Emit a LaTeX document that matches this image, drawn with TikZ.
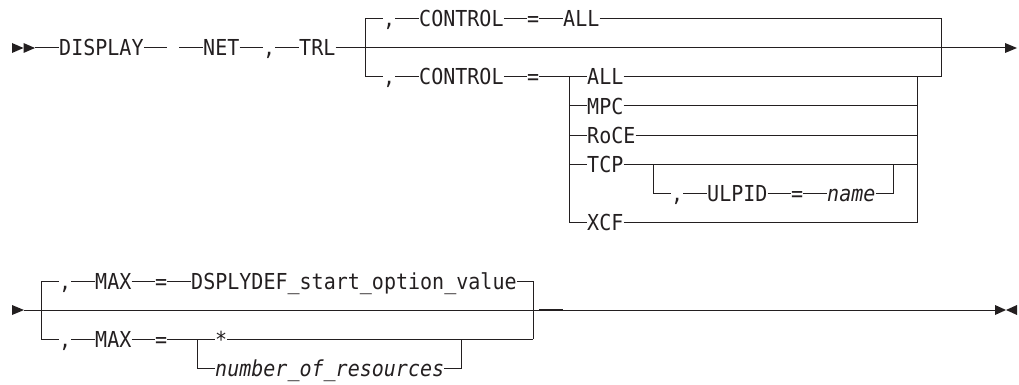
\documentclass[tikz,border=0pt]{standalone}
\usepackage{fontspec}
\setmonofont[FakeStretch=0.91]{DejaVu Sans Mono}
\definecolor{ink}{HTML}{231F20}
\tikzset{
  tok/.style={anchor=west, inner sep=0pt, text height=16pt, text depth=0pt,
    font=\ttfamily\fontsize{22}{26}\selectfont, text=ink},
  var/.style={tok, font=\ttfamily\itshape\fontsize{22}{26}\selectfont},
  rail/.style={draw=ink, line width=1pt},
  tip/.style={fill=ink, draw=none}
}
\begin{document}
\begin{tikzpicture}[x=1pt, y=-1pt]
\useasboundingbox (0,0) rectangle (1019,385);
% ---------------- Row 1 ----------------
\fill[tip] (12,43) -- (23.5,48) -- (12,53) -- cycle;
\fill[tip] (23.5,43) -- (35,48) -- (23.5,53) -- cycle;
\coordinate (s1) at (35,48);
\node[tok] (disp) at (59,48) {DISPLAY};
\coordinate (g1) at (167,48);
\coordinate (g2) at (179,48);
\node[tok] (net) at (203,48) {NET};
\node[tok] (c1) at (263,48) {,};
\node[tok] (trl) at (299,48) {TRL};
\coordinate (e1) at (1005,48);
\fill[tip] (1005,43) -- (1017,48) -- (1005,53) -- cycle;
\draw[rail] (s1) -- (disp.west);
\draw[rail] (disp.east) -- (g1);
\draw[rail] (g2) -- (net.west);
\draw[rail] (net.east) -- (c1.west);
\draw[rail] (c1.east) -- (trl.west);
\draw[rail] (trl.east) -- (e1);
% loop corners
\coordinate (L1t) at (365,19);
\coordinate (L1b) at (365,77);
\coordinate (R1t) at (941,19);
\coordinate (R1b) at (941,77);
% default (top)
\node[tok] (c2) at (383,19) {,};
\node[tok] (ctl1) at (419,19) {CONTROL};
\node[tok] (eq1) at (527,19) {=};
\node[tok] (all1) at (563,19) {ALL};
\draw[rail] (L1b) -- (L1t) -- (c2.west);
\draw[rail] (c2.east) -- (ctl1.west);
\draw[rail] (ctl1.east) -- (eq1.west);
\draw[rail] (eq1.east) -- (all1.west);
\draw[rail] (all1.east) -- (R1t) -- (R1b);
% bottom branch
\node[tok] (c3) at (383,77) {,};
\node[tok] (ctl2) at (419,77) {CONTROL};
\node[tok] (eq2) at (527,77) {=};
\coordinate (V2t) at (569,77);
\coordinate (V2b) at (569,222);
\coordinate (W2t) at (917,77);
\coordinate (W2b) at (917,222);
\node[tok] (all2) at (587,77) {ALL};
\node[tok] (mpc) at (587,106) {MPC};
\node[tok] (roce) at (587,135) {RoCE};
\node[tok] (tcp) at (587,164) {TCP};
\node[tok] (xcf) at (587,222) {XCF};
\draw[rail] (L1b) -- (c3.west);
\draw[rail] (c3.east) -- (ctl2.west);
\draw[rail] (ctl2.east) -- (eq2.west);
\draw[rail] (eq2.east) -- (all2.west);
\draw[rail] (all2.east) -- (R1b);
\draw[rail] (V2t) -- (V2b) -- (xcf.west);
\draw[rail] (V2t |- mpc.west) -- (mpc.west);
\draw[rail] (V2t |- roce.west) -- (roce.west);
\draw[rail] (V2t |- tcp.west) -- (tcp.west);
\draw[rail] (mpc.east) -- (W2t |- mpc.east);
\draw[rail] (roce.east) -- (W2t |- roce.east);
\draw[rail] (tcp.east) -- (W2t |- tcp.east);
\draw[rail] (xcf.east) -- (W2b) -- (W2t);
% ULPID option
\coordinate (U1t) at (653,164);
\coordinate (U1b) at (653,193);
\coordinate (U2t) at (893,164);
\coordinate (U2b) at (893,193);
\node[tok] (c4) at (671,193) {,};
\node[tok] (ulpid) at (707,193) {ULPID};
\node[tok] (eq3) at (791,193) {=};
\node[var] (name) at (827,193) {name};
\draw[rail] (U1t) -- (U1b) -- (c4.west);
\draw[rail] (c4.east) -- (ulpid.west);
\draw[rail] (ulpid.east) -- (eq3.west);
\draw[rail] (eq3.east) -- (name.west);
\draw[rail] (name.east) -- (U2b) -- (U2t);
% ---------------- Row 2 ----------------
\fill[tip] (12,305) -- (24,310) -- (12,315) -- cycle;
\coordinate (s2) at (24,310);
\coordinate (e2) at (995,310);
\fill[tip] (995,305) -- (1006,310) -- (995,315) -- cycle;
\fill[tip] (1017,305) -- (1006,310) -- (1017,315) -- cycle;
\draw[rail] (s2) -- (e2);
\coordinate (dA) at (539,310);
\coordinate (dB) at (563,310);
\draw[draw=ink, line width=1.3pt] (dA) -- (dB);
\coordinate (L3t) at (41,281);
\coordinate (L3b) at (41,339);
\coordinate (R3t) at (533,281);
\coordinate (R3b) at (533,339);
\node[tok] (c5) at (59,281) {,};
\node[tok] (max1) at (95,281) {MAX};
\node[tok] (eq4) at (155,281) {=};
\node[tok] (dsp) at (191,281) {DSPLYDEF\_start\_option\_value};
\draw[rail] (L3b) -- (L3t) -- (c5.west);
\draw[rail] (c5.east) -- (max1.west);
\draw[rail] (max1.east) -- (eq4.west);
\draw[rail] (eq4.east) -- (dsp.west);
\draw[rail] (dsp.east) -- (R3t) -- (R3b);
\node[tok] (c6) at (59,339) {,};
\node[tok] (max2) at (95,339) {MAX};
\node[tok] (eq5) at (155,339) {=};
\coordinate (V4t) at (197,339);
\coordinate (V4b) at (197,368);
\node[tok] (star) at (215,339) {*};
\node[var] (nres) at (215,368) {number\_of\_resources};
\coordinate (W4t) at (461,339);
\coordinate (W4b) at (461,368);
\draw[rail] (L3b) -- (c6.west);
\draw[rail] (c6.east) -- (max2.west);
\draw[rail] (max2.east) -- (eq5.west);
\draw[rail] (eq5.east) -- (star.west);
\draw[rail] (star.east) -- (R3b);
\draw[rail] (V4t) -- (V4b) -- (nres.west);
\draw[rail] (nres.east) -- (W4b) -- (W4t);
\end{tikzpicture}
\end{document}
